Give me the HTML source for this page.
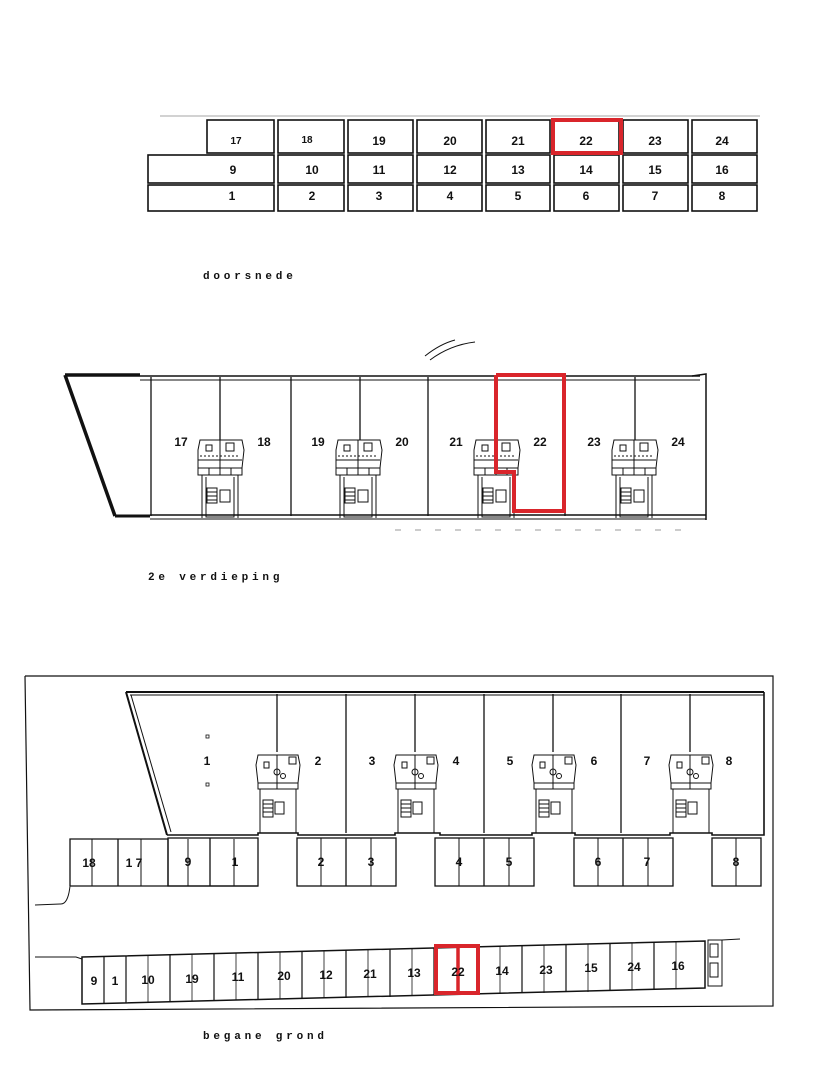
<!DOCTYPE html>
<html><head><meta charset="utf-8"><style>
html,body{margin:0;padding:0;background:#fff;}
svg{display:block}
text{font-family:"Liberation Sans",sans-serif;font-weight:bold;fill:#111;text-anchor:middle}
.cap{font-family:"Liberation Mono",monospace;font-size:11px;letter-spacing:3.8px;text-anchor:start;font-weight:bold}
.n{font-size:12px}
</style></head><body>
<svg width="829" height="1089" viewBox="0 0 829 1089" xmlns="http://www.w3.org/2000/svg">
<rect width="829" height="1089" fill="#fff"/>
<!-- DOORSNEDE -->
<g fill="none" stroke="#111" stroke-width="1.6">
<line x1="160" y1="116" x2="760" y2="116" stroke-width="0.8" stroke="#888"/>
<rect x="207" y="120" width="67" height="33"/><rect x="278" y="120" width="66" height="33"/>
<rect x="348" y="120" width="65" height="33"/><rect x="417" y="120" width="65" height="33"/>
<rect x="486" y="120" width="64" height="33"/><rect x="554" y="120" width="65" height="33"/>
<rect x="623" y="120" width="65" height="33"/><rect x="692" y="120" width="65" height="33"/>
<rect x="148" y="155" width="126" height="28"/><rect x="278" y="155" width="66" height="28"/>
<rect x="348" y="155" width="65" height="28"/><rect x="417" y="155" width="65" height="28"/>
<rect x="486" y="155" width="64" height="28"/><rect x="554" y="155" width="65" height="28"/>
<rect x="623" y="155" width="65" height="28"/><rect x="692" y="155" width="65" height="28"/>
<rect x="148" y="185" width="126" height="26"/><rect x="278" y="185" width="66" height="26"/>
<rect x="348" y="185" width="65" height="26"/><rect x="417" y="185" width="65" height="26"/>
<rect x="486" y="185" width="64" height="26"/><rect x="554" y="185" width="65" height="26"/>
<rect x="623" y="185" width="65" height="26"/><rect x="692" y="185" width="65" height="26"/>
</g>
<rect x="553" y="120" width="68" height="33" fill="none" stroke="#d9252b" stroke-width="4"/>
<g class="n">
<text x="236" y="144" font-size="10">17</text><text x="307" y="143" font-size="10">18</text><text x="379" y="145">19</text><text x="450" y="145">20</text><text x="518" y="145">21</text><text x="586" y="145">22</text><text x="655" y="145">23</text><text x="722" y="145">24</text>
<text x="233" y="174">9</text><text x="312" y="174">10</text><text x="379" y="174">11</text><text x="450" y="174">12</text><text x="518" y="174">13</text><text x="586" y="174">14</text><text x="655" y="174">15</text><text x="722" y="174">16</text>
<text x="232" y="200">1</text><text x="312" y="200">2</text><text x="379" y="200">3</text><text x="450" y="200">4</text><text x="518" y="200">5</text><text x="586" y="200">6</text><text x="655" y="200">7</text><text x="722" y="200">8</text>
</g>
<text class="cap" x="203" y="279">doorsnede</text>

<!-- 2e VERDIEPING -->
<g fill="none" stroke="#111">
<path d="M425 356 Q440 344 455 340 M430 360 Q450 345 475 342" stroke-width="1"/>
<line x1="65" y1="375" x2="140" y2="375" stroke-width="3.5"/>
<line x1="140" y1="376" x2="700" y2="376" stroke-width="1.5"/>
<line x1="140" y1="380" x2="700" y2="380" stroke-width="1"/>
<line x1="65" y1="375" x2="115" y2="516" stroke-width="3.5"/>
<line x1="115" y1="516" x2="150" y2="516" stroke-width="3"/>
<line x1="150" y1="515" x2="706" y2="515" stroke-width="1.5"/>
<line x1="150" y1="519" x2="706" y2="519" stroke-width="1"/>
<polyline points="692,376 706,374 706,520" stroke-width="1.5"/>
<g stroke-width="1.3">
<line x1="151" y1="377" x2="151" y2="516"/><line x1="220" y1="377" x2="220" y2="440"/>
<line x1="291" y1="377" x2="291" y2="516"/><line x1="360" y1="377" x2="360" y2="440"/>
<line x1="428" y1="377" x2="428" y2="516"/><line x1="496" y1="377" x2="496" y2="440"/>
<line x1="565" y1="377" x2="565" y2="516"/><line x1="635" y1="377" x2="635" y2="440"/>
</g>
<g id="core" stroke-width="1">
<path d="M198 450 L200 440 L242 440 L244 450 L242 468 L198 468 Z"/>
<line x1="198" y1="460" x2="242" y2="460"/>
<rect x="198" y="468" width="44" height="7"/>
<line x1="209" y1="468" x2="209" y2="475"/><line x1="220" y1="440" x2="220" y2="475"/><line x1="231" y1="468" x2="231" y2="475"/>
<path d="M202 475 L202 518 M238 475 L238 518 M206 477 L206 517 L234 517 L234 477"/>
<rect x="207" y="488" width="10" height="15"/><rect x="220" y="490" width="10" height="12"/>
<line x1="207" y1="492" x2="217" y2="492"/><line x1="207" y1="496" x2="217" y2="496"/><line x1="207" y1="500" x2="217" y2="500"/>
<rect x="206" y="445" width="6" height="6"/><rect x="226" y="443" width="8" height="8"/>
<line x1="200" y1="456" x2="240" y2="456" stroke-dasharray="2 2"/>
</g>
<use href="#core" x="138"/><use href="#core" x="276"/><use href="#core" x="414"/>
</g>
<polyline points="496,375 564,375 564,511 514,511 514,472 496,472 496,375" fill="none" stroke="#d9252b" stroke-width="4"/>
<g class="n">
<text x="181" y="446">17</text><text x="264" y="446">18</text><text x="318" y="446">19</text><text x="402" y="446">20</text>
<text x="456" y="446">21</text><text x="540" y="446">22</text><text x="594" y="446">23</text><text x="678" y="446">24</text>
</g>
<g stroke="#999" stroke-width="1"><line x1="395" y1="530" x2="690" y2="530" stroke-dasharray="6 14"/></g>
<text class="cap" x="148" y="580">2e verdieping</text>

<!-- BEGANE GROND -->
<g fill="none" stroke="#111">
<polyline points="25,676 773,676 773,1006 30,1010 25,676" stroke-width="1.2"/>
<line x1="126" y1="692" x2="764" y2="692" stroke-width="2"/>
<line x1="130" y1="695" x2="764" y2="695" stroke-width="1"/>
<line x1="126" y1="692" x2="167" y2="835" stroke-width="2"/>
<line x1="131" y1="695" x2="171" y2="832" stroke-width="1"/>
<polyline points="167,835 258,835 258,833 298,833 298,835 395,835 395,833 440,833 440,835 532,835 532,833 575,833 575,835 670,835 670,833 712,833 712,835 764,835 764,692" stroke-width="1.6"/>
<g stroke-width="1.3">
<line x1="277" y1="694" x2="277" y2="752"/><line x1="346" y1="694" x2="346" y2="833"/>
<line x1="415" y1="694" x2="415" y2="752"/><line x1="484" y1="694" x2="484" y2="833"/>
<line x1="553" y1="694" x2="553" y2="752"/><line x1="621" y1="694" x2="621" y2="833"/>
<line x1="690" y1="694" x2="690" y2="752"/>
</g>
<g id="gcore" stroke-width="1">
<path d="M256 765 L258 755 L298 755 L300 765 L298 783 L258 783 Z"/>
<rect x="258" y="783" width="40" height="6"/>
<line x1="277" y1="755" x2="277" y2="789"/>
<path d="M260 789 L260 833 M296 789 L296 833"/>
<rect x="263" y="800" width="10" height="17"/><rect x="275" y="802" width="9" height="12"/>
<line x1="263" y1="804" x2="273" y2="804"/><line x1="263" y1="808" x2="273" y2="808"/><line x1="263" y1="812" x2="273" y2="812"/>
<rect x="264" y="762" width="5" height="6"/><rect x="289" y="757" width="7" height="7"/>
<circle cx="277" cy="772" r="3"/><circle cx="283" cy="776" r="2.5"/>
</g>
<use href="#gcore" x="138"/><use href="#gcore" x="276"/><use href="#gcore" x="413"/>
<rect x="206" y="735" width="3" height="3" stroke-width="0.8"/><rect x="206" y="783" width="3" height="3" stroke-width="0.8"/>
<!-- top parking row -->
<g stroke-width="1.3">
<polyline points="70,886 70,839 168,839"/><line x1="70" y1="886" x2="258" y2="886"/>
<line x1="118" y1="839" x2="118" y2="886"/><line x1="168" y1="839" x2="168" y2="886"/>
<rect x="168" y="838" width="90" height="48"/><line x1="210" y1="838" x2="210" y2="886"/>
<line x1="92" y1="839" x2="92" y2="886" stroke-width="1"/><line x1="141" y1="839" x2="141" y2="886" stroke-width="1"/><line x1="188" y1="839" x2="188" y2="886" stroke-width="1"/><line x1="234" y1="839" x2="234" y2="886" stroke-width="1"/>
<rect x="297" y="838" width="99" height="48"/><line x1="346" y1="838" x2="346" y2="886"/><line x1="321" y1="838" x2="321" y2="886" stroke-width="1"/><line x1="371" y1="838" x2="371" y2="886" stroke-width="1"/>
<rect x="435" y="838" width="99" height="48"/><line x1="484" y1="838" x2="484" y2="886"/><line x1="459" y1="838" x2="459" y2="886" stroke-width="1"/><line x1="509" y1="838" x2="509" y2="886" stroke-width="1"/>
<rect x="574" y="838" width="99" height="48"/><line x1="623" y1="838" x2="623" y2="886"/><line x1="598" y1="838" x2="598" y2="886" stroke-width="1"/><line x1="648" y1="838" x2="648" y2="886" stroke-width="1"/>
<rect x="712" y="838" width="49" height="48"/><line x1="736" y1="838" x2="736" y2="886" stroke-width="1"/>
</g>
<path d="M70 886 Q68 905 60 904 L35 905" stroke-width="1"/>
<!-- bottom parking row -->
<polyline points="35,957 76,957 82,959" stroke-width="1"/>
<polygon points="82,957 705,941 705,988 82,1004" stroke-width="1.5"/>
<g stroke-width="1.2">
<line x1="104" y1="956" x2="104" y2="1004"/><line x1="126" y1="956" x2="126" y2="1003"/>
<line x1="170" y1="955" x2="170" y2="1002"/><line x1="214" y1="954" x2="214" y2="1001"/>
<line x1="258" y1="953" x2="258" y2="1000"/><line x1="302" y1="951" x2="302" y2="999"/>
<line x1="346" y1="950" x2="346" y2="998"/><line x1="390" y1="949" x2="390" y2="997"/>
<line x1="434" y1="948" x2="434" y2="995"/><line x1="478" y1="947" x2="478" y2="994"/>
<line x1="522" y1="946" x2="522" y2="993"/><line x1="566" y1="945" x2="566" y2="992"/>
<line x1="610" y1="944" x2="610" y2="991"/><line x1="654" y1="942" x2="654" y2="990"/>
</g>
<g stroke-width="0.8">
<line x1="148" y1="955" x2="148" y2="1002"/><line x1="192" y1="954" x2="192" y2="1001"/>
<line x1="236" y1="953" x2="236" y2="1000"/><line x1="280" y1="952" x2="280" y2="999"/>
<line x1="324" y1="951" x2="324" y2="998"/><line x1="368" y1="950" x2="368" y2="997"/>
<line x1="412" y1="949" x2="412" y2="996"/><line x1="500" y1="946" x2="500" y2="994"/>
<line x1="544" y1="945" x2="544" y2="993"/><line x1="588" y1="944" x2="588" y2="992"/>
<line x1="632" y1="943" x2="632" y2="990"/><line x1="676" y1="942" x2="676" y2="989"/>
</g>
<rect x="708" y="940" width="14" height="46" stroke-width="1"/>
<rect x="710" y="944" width="8" height="13" stroke-width="1"/><rect x="710" y="963" width="8" height="14" stroke-width="1"/>
<polyline points="722,940 740,939 M755,938 772,938 772,985 722,986" stroke-width="1"/>
</g>
<rect x="436" y="946" width="42" height="47" fill="none" stroke="#d9252b" stroke-width="4"/>
<line x1="458" y1="946" x2="458" y2="993" stroke="#d9252b" stroke-width="3.5"/>
<g class="n">
<text x="207" y="765">1</text><text x="318" y="765">2</text><text x="372" y="765">3</text><text x="456" y="765">4</text>
<text x="510" y="765">5</text><text x="594" y="765">6</text><text x="647" y="765">7</text><text x="729" y="765">8</text>
<text x="89" y="867">18</text><text x="134" y="867">1 7</text><text x="188" y="866">9</text><text x="235" y="866">1</text>
<text x="321" y="866">2</text><text x="371" y="866">3</text><text x="459" y="866">4</text><text x="509" y="866">5</text>
<text x="598" y="866">6</text><text x="647" y="866">7</text><text x="736" y="866">8</text>
<text x="94" y="985">9</text><text x="115" y="985">1</text><text x="148" y="984">10</text><text x="192" y="983">19</text>
<text x="238" y="981">11</text><text x="284" y="980">20</text><text x="326" y="979">12</text><text x="370" y="978">21</text>
<text x="414" y="977">13</text><text x="458" y="976">22</text><text x="502" y="975">14</text><text x="546" y="974">23</text>
<text x="591" y="972">15</text><text x="634" y="971">24</text><text x="678" y="970">16</text>
</g>
<text class="cap" x="203" y="1039">begane grond</text>
</svg>
</body></html>
